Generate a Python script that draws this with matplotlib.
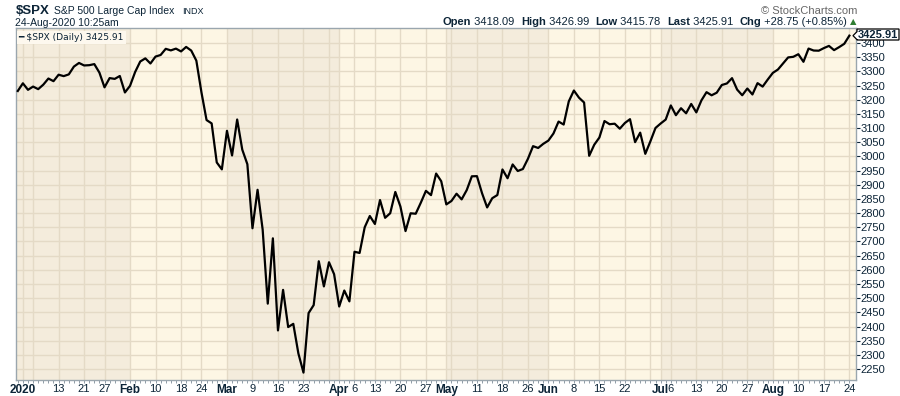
import numpy as np
import pandas as pd
import matplotlib
matplotlib.use("Agg")
import matplotlib.pyplot as plt
from matplotlib.patches import Polygon

# S&P 500 daily closes, 31-Dec-2019 .. 24-Aug-2020 (last value intraday)
holidays = ["2020-01-01", "2020-01-20", "2020-02-17", "2020-04-10",
            "2020-05-25", "2020-07-03"]
dec = [3230.78]
jan = [3257.85, 3234.85, 3246.28, 3237.18, 3253.05, 3274.70, 3265.35, 3288.13,
       3283.15, 3289.29, 3316.81, 3329.62, 3320.79, 3321.75, 3325.54, 3295.47,
       3243.63, 3276.24, 3273.40, 3283.66, 3225.52]
feb = [3248.92, 3297.59, 3334.69, 3345.78, 3327.71, 3352.09, 3357.75, 3379.45,
       3373.94, 3380.16, 3370.29, 3386.15, 3373.23, 3337.75, 3225.89, 3128.21,
       3116.39, 2978.76, 2954.22]
mar = [3090.23, 3003.37, 3130.12, 3023.94, 2972.37, 2746.56, 2882.23, 2741.38,
       2480.64, 2711.02, 2386.13, 2529.19, 2398.10, 2409.39, 2304.92, 2237.40,
       2447.33, 2475.56, 2630.07, 2541.47, 2626.65, 2584.59]
apr = [2470.50, 2526.90, 2488.65, 2663.68, 2659.41, 2749.98, 2789.82, 2761.63,
       2846.06, 2783.36, 2799.55, 2874.56, 2823.16, 2736.56, 2799.31, 2797.80,
       2836.74, 2878.48, 2863.39, 2939.51, 2912.43]
may = [2830.71, 2842.74, 2868.44, 2848.42, 2881.19, 2929.80, 2930.32, 2870.12,
       2820.00, 2852.50, 2863.70, 2953.91, 2922.94, 2971.61, 2948.51, 2955.45,
       2991.77, 3036.13, 3029.73, 3044.31]
jun = [3055.73, 3080.82, 3122.87, 3112.35, 3193.93, 3232.39, 3207.18, 3190.14,
       3002.10, 3041.31, 3066.59, 3124.74, 3113.49, 3115.34, 3097.74, 3117.86,
       3131.29, 3050.33, 3083.76, 3009.05, 3053.24, 3100.29]
jul = [3115.86, 3130.01, 3179.72, 3145.32, 3169.94, 3152.05, 3185.04, 3155.22,
       3197.52, 3226.56, 3215.57, 3224.73, 3251.84, 3257.30, 3276.02, 3235.66,
       3215.63, 3239.41, 3218.44, 3258.44, 3246.22, 3271.12]
aug = [3294.61, 3306.51, 3327.77, 3349.16, 3351.28, 3360.47, 3333.69, 3380.35,
       3373.43, 3372.85, 3381.99, 3389.78, 3374.85, 3385.51, 3397.16, 3425.91]

closes = np.array(dec + jan + feb + mar + apr + may + jun + jul + aug)
dates = pd.bdate_range("2019-12-31", "2020-08-24")
dates = dates[~dates.isin(pd.to_datetime(holidays))]

# week labels that StockCharts leaves out (too close to a month label)
skip_labels = ["2020-01-06", "2020-03-30", "2020-05-04", "2020-06-29"]

y_ticks = np.arange(2250, 3401, 50)

navy = "#0c2437"
light_bg = "#fdf6e4"
dark_bg = "#f4ecdc"
grid_c = "#e4dac6"

x = np.arange(len(dates))
df = pd.DataFrame({"d": dates, "i": x})
month_start = df.groupby([df.d.dt.year, df.d.dt.month]).i.first().values[1:]
week_start = df.groupby(df.d.dt.isocalendar().week.values).i.first().values
week_start = week_start[week_start > 0]

fig = plt.figure(figsize=(9, 3.96), dpi=100)
ax = fig.add_axes([16 / 900, 1 - 380 / 396, 840 / 900, 352 / 396])
ax.set_xlim(-0.35, 164.3)
ax.set_ylim(2211.3, 3452.9)
ax.set_facecolor(light_bg)

# month shading, alternating (Jan dark)
bounds = [-1] + list(month_start[1:]) + [200]
for k in range(len(bounds) - 1):
    if k % 2 == 0:
        ax.axvspan(bounds[k], bounds[k + 1], color=dark_bg, lw=0, zorder=0)

for xi in sorted(set(week_start) | set(month_start)):
    ax.axvline(xi, color=grid_c, lw=1, zorder=1)
for yv in y_ticks:
    ax.axhline(yv, color=grid_c, lw=1, zorder=1)

ax.plot(x, closes, color="black", lw=1.6, zorder=3)

# x labels
skip = pd.to_datetime(skip_labels)
for i in sorted(set(week_start) | set(month_start)):
    d = dates[i]
    if i in month_start:
        s, bold = ("2020" if d.month == 1 else d.strftime("%b")), True
    elif d in skip:
        continue
    else:
        s, bold = str(d.day), False
    ax.text(i, -0.012, s, transform=ax.get_xaxis_transform(), ha="center",
            va="top", fontsize=8.5 if bold else 8, color=navy,
            fontweight="bold" if bold else "normal", family="Liberation Sans")
ax.set_xticks(x, minor=True)
ax.set_xticks([])
ax.tick_params(axis="x", which="minor", length=2, width=0.6, color="#7d8c98")

ax.yaxis.tick_right()
ax.set_yticks(y_ticks)
ax.set_yticklabels([str(v) for v in y_ticks], family="Liberation Sans",
                   fontsize=8, color=navy)
ax.tick_params(axis="y", length=3, pad=0.5, color=navy, width=0.8)

for sp in ax.spines.values():
    sp.set_color("#9aa6ae")
    sp.set_linewidth(1)

# last value tag (pixel geometry converted to figure fraction)
W, H = 900, 396
tip_y = ax.transData.transform((0, closes[-1]))[1]
ty = H - tip_y
pts = [(853, ty), (857, ty - 4), (857, 29), (899, 29), (899, 40),
       (857, 40), (857, ty + 4)]
fig.add_artist(Polygon([(px / W, 1 - py / H) for px, py in pts], closed=True,
                       fc="white", ec="black", lw=0.9,
                       transform=fig.transFigure, zorder=5))
fig.text(878 / W, 1 - 34.5 / H, f"{closes[-1]:.2f}", fontsize=8,
         fontweight="bold", color=navy, ha="center", va="center",
         family="Liberation Sans", zorder=6)

# legend
ax.text(0.003, 0.985, "\u2501 $SPX (Daily) 3425.91", transform=ax.transAxes,
        ha="left", va="top", fontsize=6.6, color=navy, family="DejaVu Sans",
        bbox=dict(boxstyle="square,pad=0.2", fc="#fdf8ee", ec="none"))

# header
fig.text(16 / W, 1 - 11 / H, "$SPX", fontsize=9.5, fontweight="bold",
         color=navy, va="center", family="Liberation Sans")
fig.text(54 / W, 1 - 11 / H, "S&P 500 Large Cap Index", fontsize=7.5,
         color=navy, va="center", family="Liberation Sans")
fig.text(182 / W, 1 - 11 / H, "INDX", fontsize=6.5, color=navy,
         va="center", family="Liberation Sans")
fig.text(15 / W, 1 - 22.5 / H, "24-Aug-2020 10:25am", fontsize=7.5,
         color=navy, va="center", family="Liberation Sans")
fig.text(857 / W, 1 - 11 / H, "\u00a9 StockCharts.com", fontsize=8,
         color="#666666", va="center", ha="right", family="Liberation Sans")

quote = [("Open", True), (" 3418.09  ", False), ("High", True),
         (" 3426.99  ", False), ("Low", True), (" 3415.78  ", False),
         ("Last", True), (" 3425.91  ", False), ("Chg", True),
         (" +28.75 (+0.85%)", False)]
fig.canvas.draw()
r = fig.canvas.get_renderer()
xp = 847
for s, bold in reversed(quote):
    t = fig.text(xp / W, 1 - 22 / H, s, fontsize=8,
                 fontweight="bold" if bold else "normal", color=navy,
                 va="center", ha="right", family="Liberation Sans")
    xp -= t.get_window_extent(r).width
fig.text(853 / W, 1 - 22 / H, "\u25b2", fontsize=6, color="#2e7d32",
         va="center", ha="center")

fig.savefig("out.png", dpi=100)
